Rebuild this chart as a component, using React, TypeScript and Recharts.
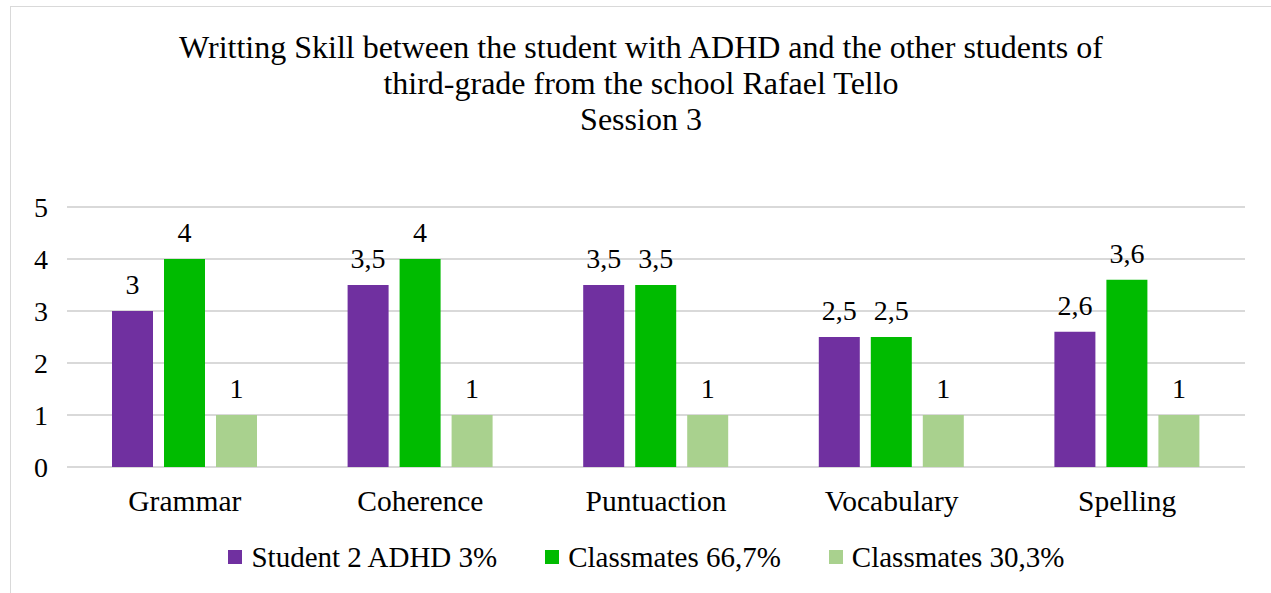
import React from 'react'
import { BarChart, Bar, XAxis, YAxis, CartesianGrid, LabelList } from 'recharts'

const skills = ['Grammar', 'Coherence', 'Puntuaction', 'Vocabulary', 'Spelling']
const studentAdhd = [3, 3.5, 3.5, 2.5, 2.6]
const classmates667 = [4, 4, 3.5, 2.5, 3.6]
const classmates303 = [1, 1, 1, 1, 1]
const yTicks = [0, 1, 2, 3, 4, 5]

const seriesNames = ['Student 2 ADHD 3%', 'Classmates 66,7%', 'Classmates 30,3%']
const colors = ['#7030A0', '#00BB00', '#A9D18E']

const data = skills.map((s, i) => ({
  skill: s,
  adhd: studentAdhd[i],
  c667: classmates667[i],
  c303: classmates303[i],
}))

const font = 'Liberation Serif'
const fmt = (v: any) => String(v).replace('.', ',')

export default function App() {
  return (
    <div style={{ position: 'absolute', left: 0, top: 0, width: 1271, height: 593, background: '#fff', overflow: 'hidden' }}>
      {/* frame, cropped on right and bottom */}
      <div style={{ position: 'absolute', left: 10, top: 6, width: 1300, height: 700, borderLeft: '1px solid #D9D9D9', borderTop: '1px solid #D9D9D9' }} />
      <div style={{ position: 'absolute', left: 10, top: 29, width: 1262, textAlign: 'center', fontFamily: font, fontSize: 32, lineHeight: '36px', color: '#000' }}>
        Writting Skill between the student with ADHD and the other students of<br />
        third-grade from the school Rafael Tello<br />
        Session 3
      </div>
      <div style={{ position: 'absolute', left: 0, top: 0 }}>
        <BarChart
          width={1271}
          height={593}
          data={data}
          margin={{ top: 207, right: 26, bottom: 86, left: 0 }}
          barGap={11}
          barSize={41}
          style={{ fontFamily: font }}
        >
          <CartesianGrid vertical={false} stroke="#D9D9D9" strokeWidth={2} />
          <XAxis
            dataKey="skill"
            axisLine={false}
            tickLine={false}
            tickSize={0}
            tickMargin={23}
            height={40}
            tick={{ fontSize: 29.5, fill: '#000', fontFamily: font }}
          />
          <YAxis
            domain={[0, 5]}
            ticks={yTicks}
            axisLine={false}
            tickLine={false}
            tickSize={0}
            tickMargin={19}
            width={67}
            tick={{ fontSize: 28, fill: '#000', fontFamily: font }}
          />
          {(['adhd', 'c667', 'c303'] as const).map((k, i) => (
            <Bar key={k} dataKey={k} name={seriesNames[i]} fill={colors[i]} isAnimationActive={false}>
              <LabelList dataKey={k} position="top" offset={17} formatter={fmt} fontSize={28} fill="#000" fontFamily={font} />
            </Bar>
          ))}
        </BarChart>
      </div>
      <div style={{ position: 'absolute', left: 11, top: 540, width: 1271, display: 'flex', justifyContent: 'center', fontFamily: font, fontSize: 29, lineHeight: '34px', color: '#000' }}>
        {seriesNames.map((n, i) => (
          <div key={n} style={{ display: 'flex', alignItems: 'center', marginRight: i < 2 ? 48 : 0 }}>
            <span style={{ width: 14, height: 14, background: colors[i], marginRight: 9, display: 'inline-block' }} />
            <span>{n}</span>
          </div>
        ))}
      </div>
    </div>
  )
}
